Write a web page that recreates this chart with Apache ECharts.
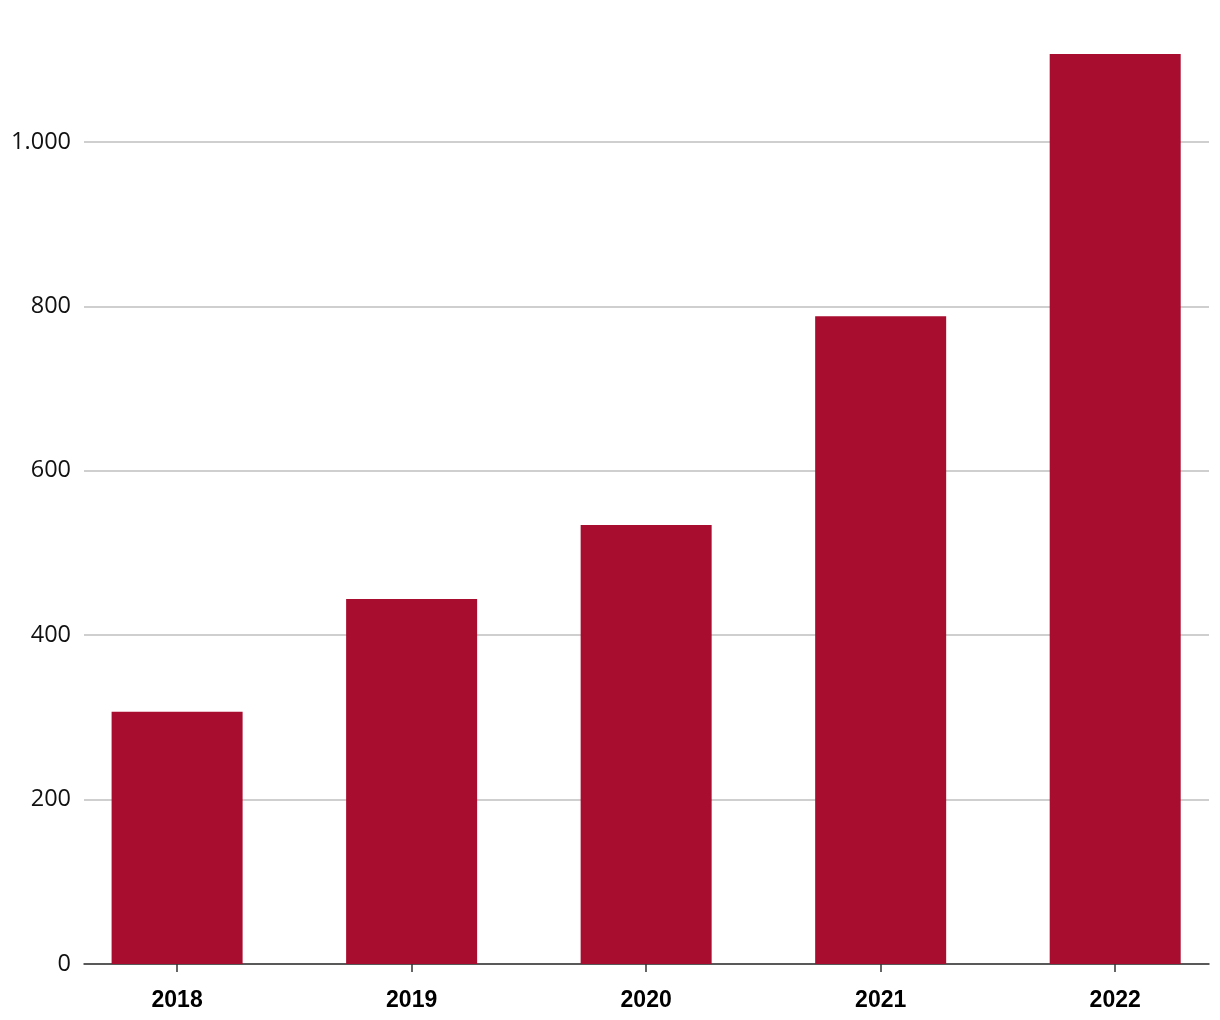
<!DOCTYPE html>
<html><head><meta charset="utf-8">
<script src="https://cdn.jsdelivr.net/npm/echarts@6/dist/echarts.min.js"></script>
<style>html,body{margin:0;padding:0;background:#fff}#c{width:1220px;height:1020px}</style>
</head><body><div id="c"></div>
<script>
const categories = ['2018', '2019', '2020', '2021', '2022'];
const values = [307, 444, 534, 788, 1107];
const yTicks = [0, 200, 400, 600, 800, 1000];

const positions = categories.map((c, i) => i);
const chart = echarts.init(document.getElementById('c'));
chart.setOption({
  animation: false,
  grid: { left: 84, right: 11, top: 0, bottom: 56, containLabel: false },
  xAxis: {
    type: 'value', min: -0.397, max: 4.40,
    splitLine: { show: false },
    axisLine: { onZero: false, lineStyle: { color: '#333', width: 1.5 } },
    axisTick: { customValues: positions, length: 8, lineStyle: { color: '#333', width: 1.5 } },
    axisLabel: {
      customValues: positions,
      color: '#000', fontFamily: '"Liberation Sans", Arial, sans-serif', fontWeight: 'bold', fontSize: 23, margin: 25,
      formatter: v => categories[Math.round(v)]
    }
  },
  yAxis: {
    type: 'value', min: 0, max: 1172.7, interval: 200,
    axisLine: { show: false }, axisTick: { show: false },
    splitLine: { showMaxLine: false, lineStyle: { color: '#bfbfbf', width: 1.5 } },
    axisLabel: {
      showMaxLabel: false,
      color: '#111', fontFamily: '"Open Sans", sans-serif', fontSize: 23.5, margin: 13,
      formatter: v => yTicks.includes(v) ? (v >= 1000 ? v.toLocaleString('de-DE') : String(v)) : ''
    }
  },
  series: [{
    type: 'bar', data: values.map((v, i) => [positions[i], v]), barWidth: 131,
    itemStyle: { color: '#A80C2E' }
  }]
});
</script></body></html>
